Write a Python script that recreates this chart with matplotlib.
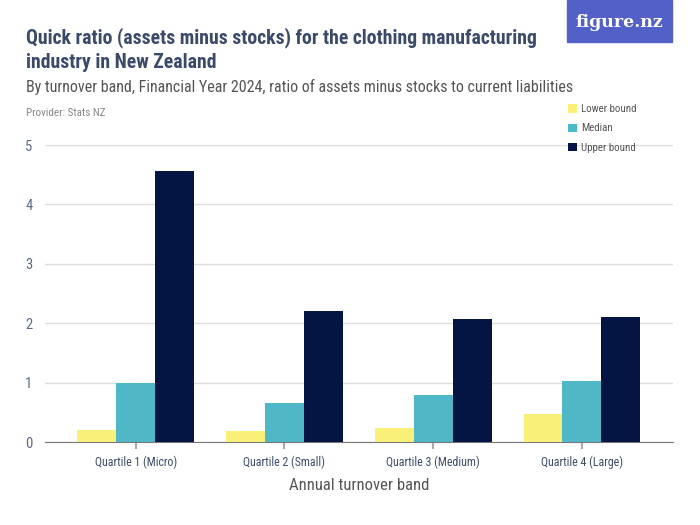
import numpy as np
import matplotlib.pyplot as plt
from matplotlib.patches import Rectangle

plt.rcParams['font.family'] = ['Roboto Condensed', 'Liberation Sans Narrow', 'Liberation Sans', 'DejaVu Sans']

categories = ['Quartile 1 (Micro)', 'Quartile 2 (Small)', 'Quartile 3 (Medium)', 'Quartile 4 (Large)']
series_names = ['Lower bound', 'Median', 'Upper bound']
lower = [0.21, 0.19, 0.24, 0.48]
median = [1.00, 0.66, 0.79, 1.03]
upper = [4.57, 2.20, 2.08, 2.10]
colors = ['#F9F07A', '#4FB7C5', '#041543']

fig = plt.figure(figsize=(7, 5.25), dpi=100)
ax = fig.add_axes([0.0643, 0.158, 0.8967, 0.5657])

x = np.arange(len(categories))
w = 0.262
for i, (vals, name, c) in enumerate(zip([lower, median, upper], series_names, colors)):
    ax.bar(x + (i - 1) * w, vals, width=w, color=c, label=name, zorder=3)

ax.set_xlim(-0.61, 3.61)
ax.set_ylim(0, 5)
ax.set_yticks([0, 1, 2, 3, 4, 5])
ax.yaxis.grid(True, color='#dddddd', linewidth=1, zorder=0)
ax.tick_params(axis='y', length=0, pad=9, labelsize=10.5, labelcolor='#5b6a85')
ax.set_xticks(x)
ax.set_xticklabels(categories)
ax.tick_params(axis='x', length=5, width=1.5, color='#aaaaaa', labelsize=8.6,
               labelcolor='#3e4d6e', pad=5)
for s in ['top', 'right', 'left']:
    ax.spines[s].set_visible(False)
ax.spines['bottom'].set_color('#777777')
ax.set_xlabel('Annual turnover band', fontsize=12, color='#555555', labelpad=6)

leg = fig.legend(loc='upper left', bbox_to_anchor=(0.798, 0.82), frameon=False,
                 fontsize=7.8, handlelength=0.8, handleheight=0.8, handletextpad=0.4,
                 labelspacing=0.85)
for t in leg.get_texts():
    t.set_color('#555555')

fig.text(0.037, 0.947, 'Quick ratio (assets minus stocks) for the clothing manufacturing\nindustry in New Zealand',
         fontsize=14.2, fontweight='bold', color='#3a4a6b', va='top', linespacing=1.3)
fig.text(0.037, 0.834, 'By turnover band, Financial Year 2024, ratio of assets minus stocks to current liabilities',
         fontsize=11.5, color='#555555', va='center')
fig.text(0.037, 0.785, 'Provider: Stats NZ', fontsize=8, color='#888888', va='center')

fig.patches.append(Rectangle((0.81, 0.92), 0.15, 0.08, transform=fig.transFigure,
                             color='#5360c8', zorder=1))
fig.text(0.885, 0.958, 'figure.nz', fontsize=12.5, color='white', ha='center', va='center',
         family='DejaVu Serif', fontweight='bold')

fig.savefig('out.png', dpi=100)
